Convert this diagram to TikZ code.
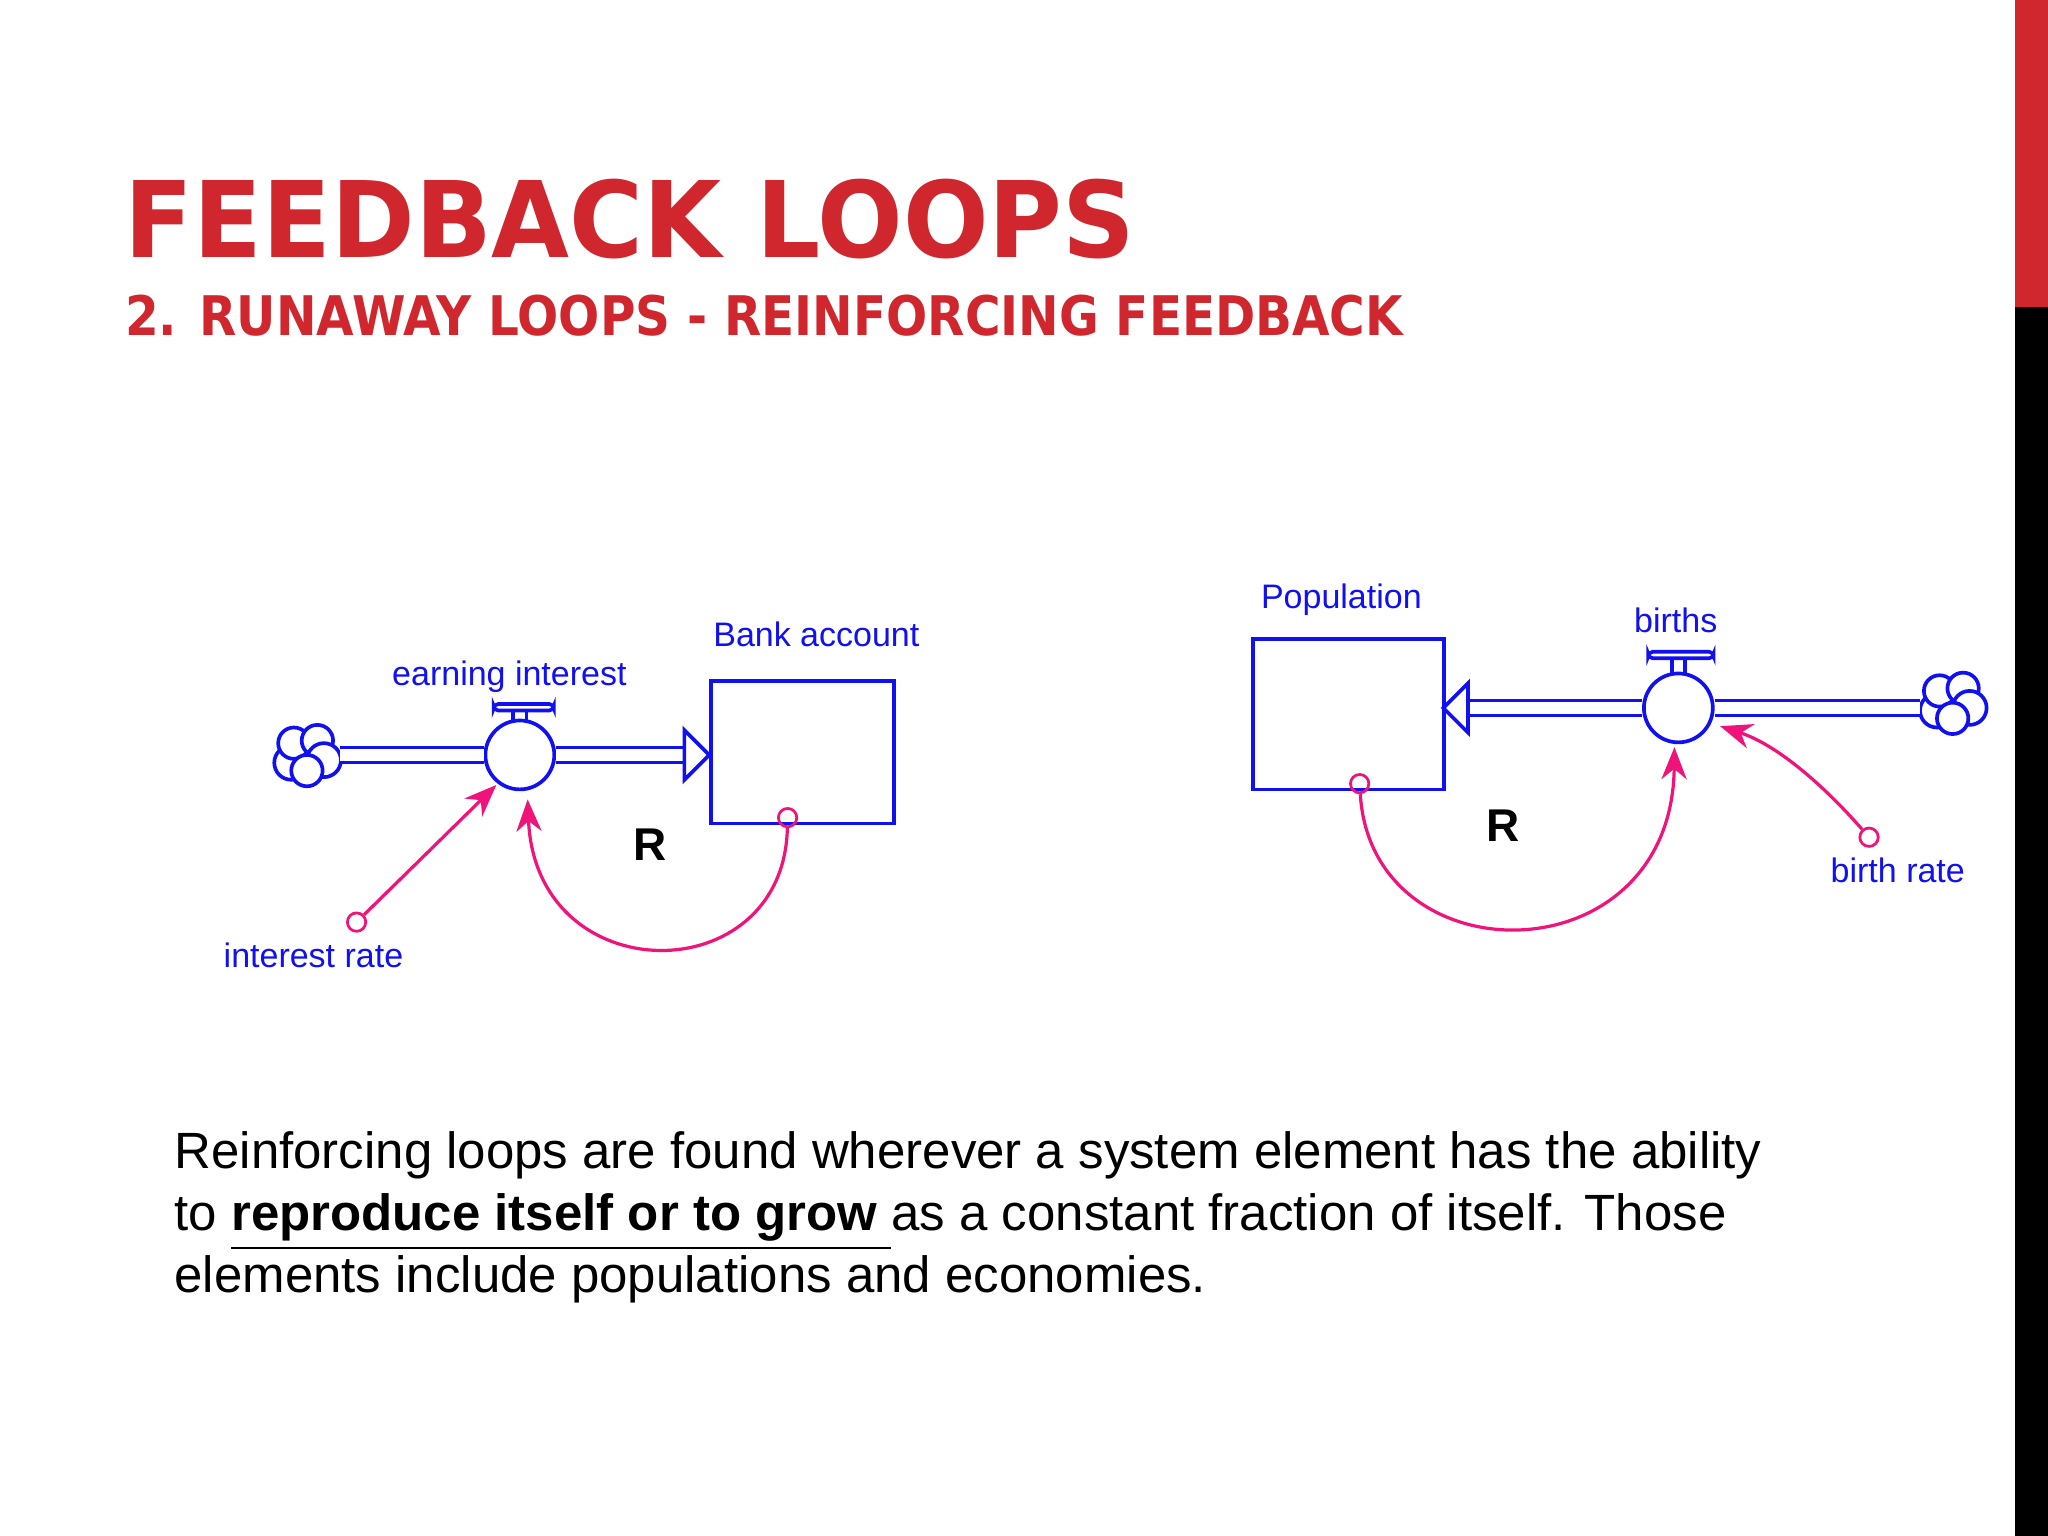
\documentclass[tikz,border=0pt]{standalone}
\usepackage{fontspec}
\setmainfont{Liberation Sans}
\newfontfamily\titlefont{DejaVu Sans}
\usetikzlibrary{arrows.meta}
\definecolor{tred}{HTML}{D0272F}
\definecolor{dblue}{HTML}{1010F0}
\definecolor{pk}{HTML}{F0147A}
\begin{document}
\begin{tikzpicture}[x=0.01cm,y=-0.01cm,
  pipe/.style={draw=dblue,line width=0.7pt,double=white,double distance=2.6pt},
  bl/.style={draw=dblue,line width=0.8pt},
  lab/.style={text=dblue,font=\fontsize{7.4}{8}\selectfont},
  lnk/.style={draw=pk,line width=0.7pt,-{Stealth[length=7pt,width=5.5pt]}},
  dot/.style={circle,draw=pk,line width=0.6pt,inner sep=0pt,minimum size=4pt},
  valve/.style={circle,draw=dblue,line width=0.8pt,inner sep=0pt,minimum size=15pt,fill=white}]
\useasboundingbox (0,0) rectangle (1568,1176);
\fill[white] (0,0) rectangle (1568,1176);
\fill[tred] (1543,0) rectangle (1568,235);
\fill[black] (1543,235) rectangle (1568,1176);
\node[anchor=base west,inner sep=0,text=tred] (title) at (95,197) {\resizebox{7.73cm}{0.6cm}{\titlefont\bfseries FEEDBACK LOOPS}};
\node[anchor=base west,inner sep=0,text=tred] (sub) at (95,257) {\resizebox{9.78cm}{0.31cm}{\titlefont\bfseries 2. RUNAWAY LOOPS - REINFORCING FEEDBACK}};
\newcommand\mycloud[2]{%
 \begin{scope}[shift={(#1,#2)}]
 \draw[bl,fill=white] (-12,6) circle (0.13cm);
 \draw[bl,fill=white] (-10,-9) circle (0.12cm);
 \draw[bl,fill=white] (8,-11) circle (0.12cm);
 \draw[bl,fill=white] (13,4) circle (0.13cm);
 \draw[bl,fill=white] (0,12) circle (0.12cm);
 \end{scope}}
\mycloud{235}{578}
\coordinate (c1) at (260,578);
\node[valve] (v1) at (398,578) {};
\draw[pipe] (c1) -- (v1.west);
\coordinate (a1) at (526,578);
\draw[pipe] (v1.east) -- (a1);
\draw[bl,fill=white] (524,559) -- (543,578) -- (524,597) -- cycle;
\draw[bl] (393,552) -- (393,541) (403,552)--(403,541);
\draw[bl,fill=white,rounded corners=1pt] (378,539) rectangle (424,544);
\node[lab,anchor=base] (ei) at (390,525) {earning interest};
\node[bl,minimum width=140*0.2845pt,minimum height=109*0.2845pt,inner sep=0,anchor=north west] (bank) at (543,520) {};
\node[lab,anchor=base] (bal) at (625,495) {Bank account};
\node[dot] (d1) at (603,626) {};
\draw[lnk] (d1) .. controls (600,760) and (410,760) .. (404,612);
\node[dot] (d2) at (273,706) {};
\draw[lnk] (d2) -- (380,601);
\node[lab,anchor=base] (ir) at (240,741) {interest rate};
\node[font=\bfseries\fontsize{10}{12}\selectfont] (r1) at (498,647) {R};
\node[bl,minimum width=146*0.2845pt,minimum height=115*0.2845pt,inner sep=0,anchor=north west] (pop) at (958,488) {};
\node[lab,anchor=base] (popl) at (1027,466) {Population};
\node[valve] (v2) at (1285,542) {};
\coordinate (a2) at (1122,542);
\draw[pipe] (v2.west) -- (a2);
\draw[bl,fill=white] (1124,523) -- (1105,542) -- (1124,561) -- cycle;
\mycloud{1495}{538}
\coordinate (c2) at (1470,542);
\draw[pipe] (v2.east) -- (c2);
\draw[bl] (1280,515) -- (1280,503) (1290,515)--(1290,503);
\draw[bl,fill=white,rounded corners=1pt] (1262,499) rectangle (1312,504);
\node[lab,anchor=base] (bl2) at (1283,484) {births};
\node[dot] (d3) at (1041,600) {};
\draw[lnk] (d3) .. controls (1050,750) and (1280,750) .. (1282,572);
\node[dot] (d4) at (1431,641) {};
\draw[lnk] (d4) .. controls (1395,600) and (1360,570) .. (1317,556);
\node[lab,anchor=base] (br) at (1453,676) {birth rate};
\node[font=\bfseries\fontsize{10}{12}\selectfont] (r2) at (1151,632) {R};
\node[anchor=north west,inner sep=0,align=left,font=\fontsize{11.1}{13.4}\selectfont] (body) at (133,866) {Reinforcing loops are found wherever a system element has the ability\\to \underline{\textbf{reproduce itself or to grow }}as a constant fraction of itself. Those\\elements include populations and economies.};
\end{tikzpicture}
\end{document}
